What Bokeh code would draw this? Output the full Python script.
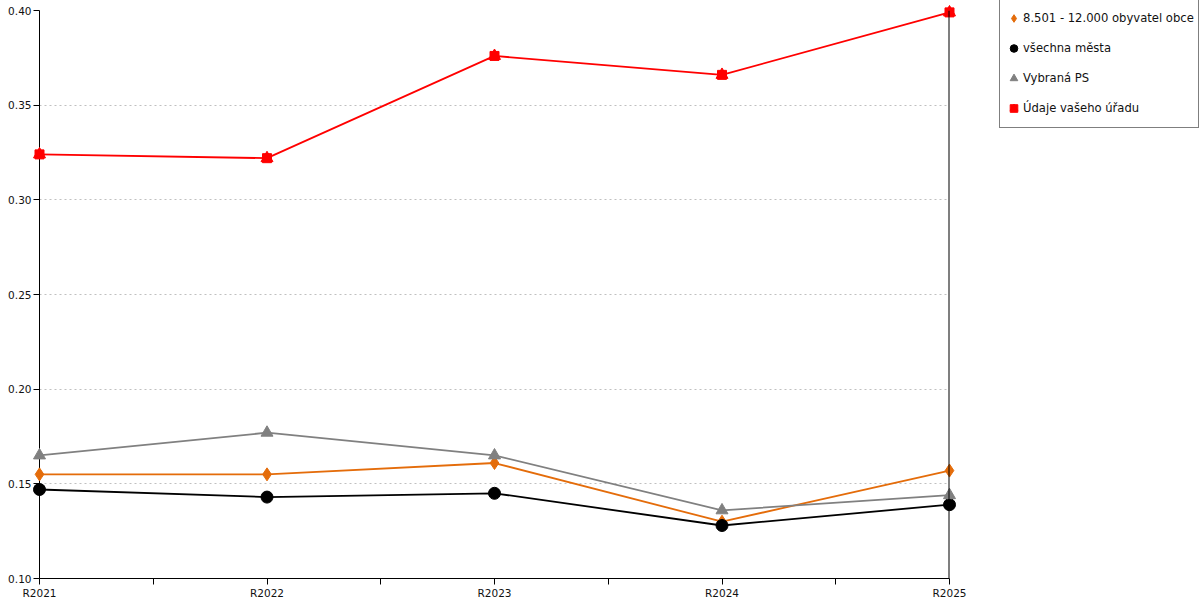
from bokeh.plotting import figure
from bokeh.models import (FixedTicker, Legend, LegendItem, Span,
                          NumeralTickFormatter, Range1d)
from bokeh.embed import file_html
from bokeh.resources import INLINE

years = ["R2021", "R2022", "R2023", "R2024", "R2025"]
obce = [0.155, 0.155, 0.161, 0.130, 0.157]
mesta = [0.147, 0.143, 0.145, 0.128, 0.139]
vybrana_ps = [0.165, 0.177, 0.165, 0.136, 0.144]
urad = [0.324, 0.322, 0.376, 0.366, 0.399]
y_ticks = [0.10, 0.15, 0.20, 0.25, 0.30, 0.35, 0.40]

labels = ["8.501 - 12.000 obyvatel obce", "všechna města", "Vybraná PS", "Údaje vašeho úřadu"]
colors = ["#E46C0A", "#000000", "#808080", "#FF0000"]

xs = list(range(len(years)))
FONT = "DejaVu Sans"

FW, FH = 910, 568
p = figure(frame_width=FW, frame_height=FH,
           x_range=Range1d(0, len(years) - 1), y_range=Range1d(y_ticks[0], y_ticks[-1]),
           output_backend="svg", toolbar_location=None,
           min_border_top=10, min_border_left=39, min_border_bottom=0, min_border_right=250)
p.outline_line_color = None
p.background_fill_color = "white"

# grid
p.xgrid.visible = False
p.ygrid.ticker = FixedTicker(ticks=y_ticks)
p.ygrid.grid_line_color = "#C0C0C0"
p.ygrid.grid_line_dash = "2 3"
p.ygrid.grid_line_width = 1

# axes
p.xaxis.ticker = FixedTicker(ticks=xs, minor_ticks=[i + 0.5 for i in xs[:-1]])
p.xaxis.major_label_overrides = {i: years[i] for i in xs}
p.yaxis.ticker = FixedTicker(ticks=y_ticks)
p.yaxis.formatter = NumeralTickFormatter(format="0.00")
for ax in (p.xaxis[0], p.yaxis[0]):
    ax.axis_line_color = "black"
    ax.major_tick_line_color = "black"
    ax.minor_tick_line_color = "black"
    ax.major_tick_in = 0
    ax.major_tick_out = 6
    ax.minor_tick_in = 0
    ax.minor_tick_out = 6
    ax.major_label_text_font = FONT
    ax.major_label_text_font_size = "10.5px"
    ax.major_label_text_color = "#111111"
    ax.major_label_standoff = 2
p.yaxis.minor_tick_line_color = None

# right-hand vertical line at the last category
p.add_layout(Span(location=xs[-1], dimension="height", line_color="black",
                  line_width=2, level="overlay"))

lw = 1.8
for ser, col in zip([obce, mesta, vybrana_ps, urad], colors):
    p.line(xs, ser, line_color=col, line_width=lw, level="overlay")

r_obce = p.scatter(xs, obce, marker="diamond", size=13, color=colors[0], level="overlay")
r_mesta = p.scatter(xs, mesta, marker="circle", size=12, color=colors[1], level="overlay")
r_ps = p.scatter(xs, vybrana_ps, marker="triangle", size=12, color=colors[2], level="overlay")
r_urad_sq = p.scatter(xs, urad, marker="square", size=9, color=colors[3], level="overlay")
r_urad_tr = p.scatter(xs, urad, marker="triangle", size=12, color=colors[3], level="overlay")

items = [
    LegendItem(label=labels[0], renderers=[r_obce]),
    LegendItem(label=labels[1], renderers=[r_mesta]),
    LegendItem(label=labels[2], renderers=[r_ps]),
    LegendItem(label=labels[3], renderers=[r_urad_sq, r_urad_tr]),
]
legend = Legend(items=items, location=(50, FH - 118), margin=0,
                padding=4, spacing=0, glyph_height=30, glyph_width=19,
                label_standoff=0, label_text_font=FONT, label_text_font_size="11.6px",
                label_text_color="#111111",
                border_line_color="black", border_line_width=1,
                background_fill_color="white", background_fill_alpha=1)
p.add_layout(legend, "right")

open("out.html", "w").write(file_html(p, INLINE))
